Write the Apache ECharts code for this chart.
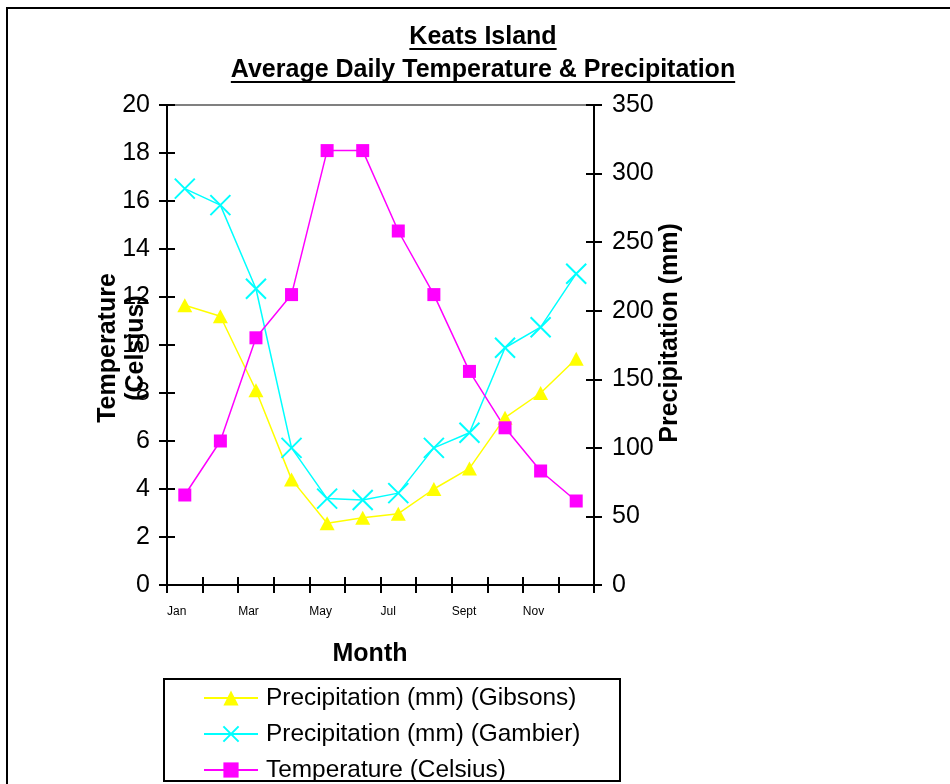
<!DOCTYPE html>
<html>
<head>
<meta charset="utf-8">
<script src="https://cdn.jsdelivr.net/npm/echarts@6/dist/echarts.min.js"></script>
<style>
html,body{margin:0;padding:0;background:#fff;}
#chart{width:950px;height:784px;}
</style>
</head>
<body>
<div id="chart"></div>
<script>
var months = ['Jan','Feb','Mar','Apr','May','Jun','Jul','Aug','Sept','Oct','Nov','Dec'];
var gibsons = [204, 196, 142, 77, 45, 49, 52, 70, 85, 122, 140, 165];
var gambier = [289, 277, 216, 100, 63, 62, 67, 100, 111, 173, 188, 227];
var temperature = [3.75, 6.0, 10.3, 12.1, 18.1, 18.1, 14.75, 12.1, 8.9, 6.55, 4.75, 3.5];
var leftTicks = {min: 0, max: 20, interval: 2};
var rightTicks = {min: 0, max: 350, interval: 50};

var FONT = '"Liberation Sans", Arial, sans-serif';
var BIG = 25;
var chart = echarts.init(document.getElementById('chart'), null, {renderer: 'canvas'});

function textWidth(txt, font) {
  var c = document.createElement('canvas').getContext('2d');
  c.font = font;
  return c.measureText(txt).width;
}
var t1 = 'Keats Island', t2 = 'Average Daily Temperature & Precipitation';
var w1 = textWidth(t1, 'bold ' + BIG + 'px ' + FONT);
var w2 = textWidth(t2, 'bold ' + BIG + 'px ' + FONT);
var cx = 483;

var crossSym = 'path://M0,0L20,20M20,0L0,20';
var tickStyle = {color: '#000', width: 2};

var option = {
  backgroundColor: '#fff',
  animation: false,
  textStyle: {fontFamily: FONT, color: '#000'},
  grid: {left: 167, right: 356, top: 105, bottom: 199, containLabel: false},
  xAxis: [
    {type: 'value', position: 'top', min: 0, max: 1,
     axisLine: {show: true, onZero: false, lineStyle: {color: '#808080', width: 2}},
     axisTick: {show: false}, axisLabel: {show: false}, splitLine: {show: false}},
    {type: 'category', data: months, position: 'bottom', boundaryGap: true,
     axisLine: {show: true, onZero: false, lineStyle: {color: '#000', width: 2}},
     axisTick: {show: true, inside: false, length: 8, lineStyle: tickStyle},
     axisLabel: {show: false}, splitLine: {show: false}},
    {type: 'value', position: 'bottom', min: 0, max: months.length, interval: 1,
     axisLine: {show: false, onZero: false},
     axisTick: {show: true, inside: true, length: 8, lineStyle: tickStyle},
     axisLabel: {show: true, margin: 21, fontSize: 12, color: '#000', align: 'left', fontFamily: FONT,
       formatter: function (v) { return (v % 2 === 0 && v < months.length) ? months[v] : ''; }},
     splitLine: {show: false}}
  ],
  yAxis: [
    {type: 'value', position: 'left', min: leftTicks.min, max: leftTicks.max, interval: leftTicks.interval,
     axisLine: {show: true, onZero: false, lineStyle: {color: '#000', width: 2}},
     axisTick: {show: true, inside: false, length: 8, lineStyle: tickStyle},
     axisLabel: {fontSize: BIG, color: '#000', margin: 17, fontFamily: FONT},
     splitLine: {show: false}},
    {type: 'value', position: 'right', min: rightTicks.min, max: rightTicks.max, interval: rightTicks.interval,
     axisLine: {show: true, onZero: false, lineStyle: {color: '#000', width: 2}},
     axisTick: {show: true, inside: false, length: 8, lineStyle: tickStyle},
     axisLabel: {fontSize: BIG, color: '#000', margin: 18, fontFamily: FONT},
     splitLine: {show: false}},
    {type: 'value', position: 'left', min: leftTicks.min, max: leftTicks.max, interval: leftTicks.interval,
     axisLine: {show: false, onZero: false},
     axisTick: {show: true, inside: true, length: 8, lineStyle: tickStyle},
     axisLabel: {show: false}, splitLine: {show: false}},
    {type: 'value', position: 'right', min: rightTicks.min, max: rightTicks.max, interval: rightTicks.interval,
     axisLine: {show: false, onZero: false},
     axisTick: {show: true, inside: true, length: 8, lineStyle: tickStyle},
     axisLabel: {show: false}, splitLine: {show: false}}
  ],
  legend: {
    orient: 'vertical', left: 203, top: 686, padding: 0,
    itemWidth: 54, itemHeight: 19, itemGap: 12,
    textStyle: {fontSize: 24.4, lineHeight: 24, color: '#000', fontFamily: FONT, padding: [0, 0, 0, 3]},
    data: ['Precipitation (mm) (Gibsons)', 'Precipitation (mm) (Gambier)', 'Temperature (Celsius)']
  },
  series: [
    {name: 'Precipitation (mm) (Gibsons)', type: 'line', xAxisIndex: 1, yAxisIndex: 1, data: gibsons,
     symbol: 'triangle', symbolSize: [15, 14],
     lineStyle: {color: '#ffff00', width: 1.5},
     itemStyle: {color: '#ffff00', borderColor: '#ffff00', borderWidth: 0}},
    {name: 'Precipitation (mm) (Gambier)', type: 'line', xAxisIndex: 1, yAxisIndex: 1, data: gambier,
     symbol: crossSym, symbolSize: 20,
     lineStyle: {color: '#00ffff', width: 1.5},
     itemStyle: {color: '#00ffff', borderColor: '#00ffff', borderWidth: 2}},
    {name: 'Temperature (Celsius)', type: 'line', xAxisIndex: 1, yAxisIndex: 0, data: temperature,
     symbol: 'rect', symbolSize: 13,
     lineStyle: {color: '#ff00ff', width: 1.5},
     itemStyle: {color: '#ff00ff', borderWidth: 0}}
  ],
  graphic: [
    {type: 'rect', silent: true, z: -1, shape: {x: 7, y: 8, width: 1000, height: 1000},
     style: {fill: null, stroke: '#000', lineWidth: 2}},
    {type: 'rect', silent: true, z: -1, shape: {x: 164, y: 679, width: 456, height: 102},
     style: {fill: '#fff', stroke: '#000', lineWidth: 2}},
    {type: 'text', x: cx, y: 37, style: {text: t1, font: 'bold ' + BIG + 'px ' + FONT, fill: '#000', align: 'center', verticalAlign: 'middle'}},
    {type: 'line', shape: {x1: cx - w1 / 2, y1: 49, x2: cx + w1 / 2, y2: 49}, style: {stroke: '#000', lineWidth: 2}},
    {type: 'text', x: cx, y: 70, style: {text: t2, font: 'bold ' + BIG + 'px ' + FONT, fill: '#000', align: 'center', verticalAlign: 'middle'}},
    {type: 'line', shape: {x1: cx - w2 / 2, y1: 82, x2: cx + w2 / 2, y2: 82}, style: {stroke: '#000', lineWidth: 2}},
    {type: 'text', x: 370, y: 654, style: {text: 'Month', font: 'bold ' + BIG + 'px ' + FONT, fill: '#000', align: 'center', verticalAlign: 'middle'}},
    {type: 'text', x: 122, y: 348, rotation: Math.PI / 2,
     style: {text: 'Temperature\n(Celsius)', font: 'bold ' + BIG + 'px ' + FONT, lineHeight: 28, fill: '#000', align: 'center', verticalAlign: 'middle'}},
    {type: 'text', x: 670, y: 333, rotation: Math.PI / 2,
     style: {text: 'Precipitation (mm)', font: 'bold ' + BIG + 'px ' + FONT, fill: '#000', align: 'center', verticalAlign: 'middle'}}
  ]
};
chart.setOption(option);
</script>
</body>
</html>
